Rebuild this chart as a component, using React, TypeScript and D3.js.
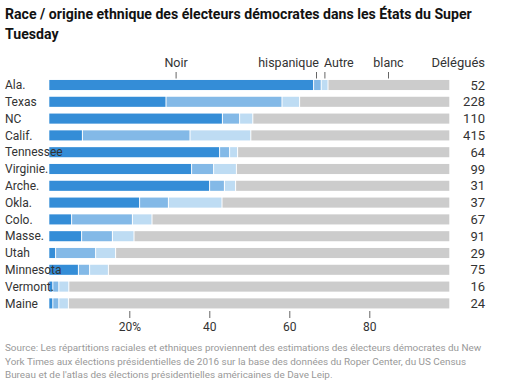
import React, { useRef, useEffect } from "react";
import * as d3 from "d3";

const states = ["Ala.", "Texas", "NC", "Calif.", "Tennessee", "Virginie.", "Arche.", "Okla.", "Colo.", "Masse.", "Utah", "Minnesota", "Vermont.", "Maine"];
const delegates = [52, 228, 110, 415, 64, 99, 31, 37, 67, 91, 29, 75, 16, 24];
const noir = [66.2, 29.3, 43.4, 8.4, 42.7, 35.7, 40.2, 22.7, 5.7, 8.2, 1.7, 7.4, 1.0, 1.0];
const hispanique = [1.9, 29.0, 4.3, 26.9, 2.5, 5.5, 3.7, 7.2, 15.2, 7.7, 10.0, 2.8, 1.5, 1.5];
const autre = [1.7, 4.4, 3.3, 15.2, 2.0, 5.7, 2.8, 13.4, 4.9, 5.4, 5.0, 4.7, 2.5, 2.4];
const blanc = [30.2, 37.3, 49.0, 49.5, 52.8, 53.1, 53.3, 56.7, 74.2, 78.7, 83.3, 85.1, 95.0, 95.1];

const groupNames = ["Noir", "hispanique", "Autre", "blanc"];
const groupLabelPos = [31.7, 66.8, 68.9, 84.8];
const xTicks = [20, 40, 60, 80];

const title = ["Race / origine ethnique des électeurs démocrates dans les États du Super", "Tuesday"];
const source = [
  "Source: Les répartitions raciales et ethniques proviennent des estimations des électeurs démocrates du New",
  "York Times aux élections présidentielles de 2016 sur la base des données du Roper Center, du US Census",
  "Bureau et de l'atlas des élections présidentielles américaines de Dave Leip.",
];

const colors = ["#348dd7", "#83b9e7", "#bedcf3", "#cccccc"];
const font = "Roboto, 'Liberation Sans', Arial, sans-serif";

const width = 507;
const height = 385;

// shrink/grow a block of text lines so its first line spans the given width
const fitLines = (sel: any, startSize: number, target: number) => {
  const node = sel.node();
  if (!node || !node.getComputedTextLength) return;
  const w = node.getComputedTextLength();
  if (w > 0) sel.attr("font-size", (startSize * target) / w);
};

const App = () => {
  const ref = useRef(null);

  useEffect(() => {
    const svg = d3.select(ref.current);
    svg.selectAll("*").remove();

    const x = d3.scaleLinear().domain([0, 100]).range([49.3, 449.3]);
    const y = d3
      .scaleBand()
      .domain(states)
      .range([76.6, 311.8])
      .paddingInner(0.4)
      .paddingOuter(0.2);

    // title
    const titleText = svg
      .append("g")
      .selectAll("text")
      .data(title)
      .join("text")
      .attr("x", 5)
      .attr("y", (d, i) => 19 + i * 20)
      .attr("font-family", font)
      .attr("font-weight", "bold")
      .attr("font-size", 15)
      .attr("fill", "#121212")
      .text((d) => d);
    fitLines(titleText, 15, 467);

    // stacked bars
    const rows = states.map((s, i) => ({
      state: s,
      vals: [noir[i], hispanique[i], autre[i], blanc[i]],
    }));

    const rowG = svg
      .append("g")
      .selectAll("g")
      .data(rows)
      .join("g")
      .attr("transform", (d) => `translate(0,${y(d.state)})`);

    rowG
      .selectAll("rect")
      .data((d) => {
        let acc = 0;
        return d.vals.map((v, k) => {
          const seg = { x0: acc, x1: acc + v, k };
          acc += v;
          return seg;
        });
      })
      .join("rect")
      .attr("x", (d) => x(d.x0))
      .attr("width", (d) => Math.max(0, x(d.x1) - x(d.x0) - (d.k < 3 ? 1 : 0)))
      .attr("height", y.bandwidth())
      .attr("fill", (d) => colors[d.k]);

    // state labels (drawn over bars)
    svg
      .append("g")
      .selectAll("text")
      .data(states)
      .join("text")
      .attr("x", 5)
      .attr("y", (d) => y(d) + y.bandwidth() / 2)
      .attr("dy", "0.35em")
      .attr("font-family", font)
      .attr("font-size", 12)
      .attr("fill", "#333")
      .text((d) => d);

    // delegates
    svg
      .append("text")
      .attr("x", 485)
      .attr("y", 67)
      .attr("text-anchor", "end")
      .attr("font-family", font)
      .attr("font-size", 13)
      .attr("fill", "#333")
      .text("Délégués");

    svg
      .append("g")
      .selectAll("text")
      .data(delegates)
      .join("text")
      .attr("x", 485)
      .attr("y", (d, i) => y(states[i]) + y.bandwidth() / 2)
      .attr("dy", "0.35em")
      .attr("text-anchor", "end")
      .attr("font-family", font)
      .attr("font-size", 13)
      .attr("fill", "#333")
      .text((d) => d);

    // group labels with ticks
    const anchors = ["middle", "end", "start", "middle"];
    const offs = [0, 2.5, -1, 0];
    const lg = svg
      .append("g")
      .selectAll("g")
      .data(groupNames)
      .join("g")
      .attr("transform", (d, i) => `translate(${x(groupLabelPos[i])},0)`);
    lg.append("line")
      .attr("y1", 72)
      .attr("y2", 78.5)
      .attr("stroke", "#666")
      .attr("stroke-width", 1);
    lg.append("text")
      .attr("x", (d, i) => offs[i])
      .attr("y", 67)
      .attr("text-anchor", (d, i) => anchors[i])
      .attr("font-family", font)
      .attr("font-size", 12.5)
      .attr("fill", "#333")
      .text((d) => d);

    // x axis
    const axis = d3
      .axisBottom(x)
      .tickValues(xTicks)
      .tickSize(7)
      .tickPadding(4.5)
      .tickFormat((d) => (d === 20 ? "20%" : String(d)));
    const ag = svg.append("g").attr("transform", "translate(0,311)").call(axis);
    ag.select(".domain").remove();
    ag.selectAll("line").attr("stroke", "#666");
    ag.selectAll("text")
      .attr("font-family", font)
      .attr("font-size", 12)
      .attr("fill", "#333");

    // source
    const srcText = svg
      .append("g")
      .selectAll("text")
      .data(source)
      .join("text")
      .attr("x", 5)
      .attr("y", (d, i) => 351 + i * 13.5)
      .attr("font-family", font)
      .attr("font-size", 10.5)
      .attr("fill", "#999")
      .text((d) => d);
    fitLines(srcText, 10.5, 477);
  }, []);

  return (
    <svg
      ref={ref}
      width={width}
      height={height}
      style={{ position: "absolute", left: 0, top: 0, background: "#fff" }}
    />
  );
};

export default App;
